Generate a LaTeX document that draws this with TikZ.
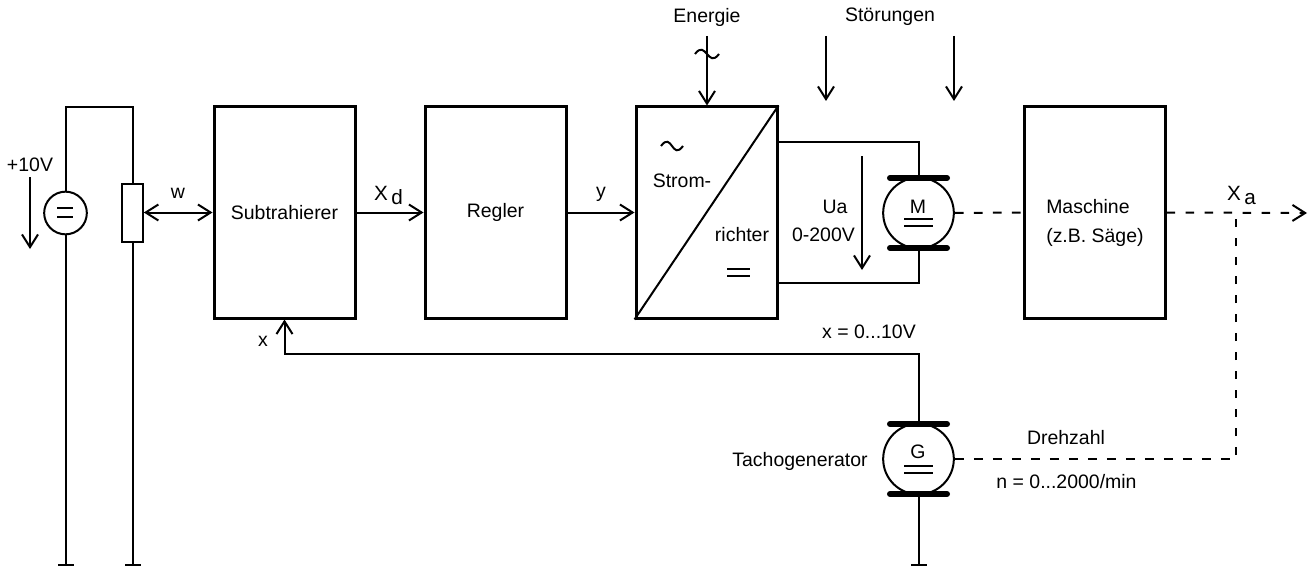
\documentclass[tikz,border=0pt]{standalone}
\usepackage{fontspec}
\setmainfont{Liberation Sans}
\usetikzlibrary{arrows.meta,positioning}

\begin{document}
\begin{tikzpicture}[
		x=0.75pt, y=-0.75pt,
		wire/.style={line width=1.5pt},
		arrow/.style={wire, -{Straight Barb[length=9.5pt,width=12pt,line width=1.5pt]}},
		both/.style={wire, {Straight Barb[length=9.5pt,width=12pt,line width=1.5pt]}-{Straight Barb[length=9.5pt,width=12pt,line width=1.5pt]}},
		shaft/.style={line width=1.5pt, dash pattern=on 6.5pt off 7.75pt},
		ground/.style={wire, -{Bar[width=12pt,line width=1.5pt]}},
		block/.style={draw, line width=2.25pt, fill=white, inner sep=0pt, minimum width=105.75pt, minimum height=158.25pt},
		rotor/.style={draw, circle, line width=1.5pt, fill=white, inner sep=0pt, minimum size=53pt},
		brush/.style={line width=4.5pt, line cap=round},
		label/.style={inner sep=0pt, font=\fontsize{14.6}{17}\selectfont},
		signal/.style={inner sep=0pt, font=\fontsize{15.5}{18}\selectfont},
	]
		\useasboundingbox (0,0) rectangle (1311,567);

		% supply and potentiometer
		\node (src) [draw, circle, wire, fill=white, inner sep=0pt, minimum size=32pt] at (65.5,213) {};
		\node (pot) [draw, wire, fill=white, inner sep=0pt, minimum width=15.5pt, minimum height=43pt] at (132.5,213) {};
		\coordinate (srctop) at (65.5,107);
		\coordinate (pottop) at (132.5,107);
		\coordinate (srcgnd) at (65.5,566);
		\coordinate (potgnd) at (132.5,566);
		\draw[wire] (src) -- (srctop) -- (pottop) -- (pot);
		\draw[ground] (src) -- (srcgnd);
		\draw[ground] (pot) -- (potgnd);
		\draw[wire] (57,208) -- (73,208);
		\draw[wire] (57,217) -- (73,217);
		\node (ubat) [label] at (30,165) {+10V};
		\coordinate (ubata) at (30,177);
		\coordinate (ubatb) at (30,249);
		\draw[arrow] (ubata) -- (ubatb);

		% blocks
		\node (sub) [block] at (284.5,212.5) {};
		\node (reg) [block] at (495.5,212.5) {};
		\node (conv) [block] at (706.5,212.5) {};
		\node (mach) [block] at (1094.5,212.5) {};
		\node [label] at (sub) {Subtrahierer};
		\node [label] at (reg) {Regler};
		\draw[wire] (conv.south west) -- (conv.north east);
		\node (strom) [label] at (682,181) {Strom-};
		\node (richt) [label] at (742,235) {richter};
		\draw[wire] (661,146) .. controls (672,131) and (672,161) .. (683,146);
		\draw[wire] (727,269) -- (750,269);
		\draw[wire] (727,276) -- (750,276);
		\node (machtxt) [label, anchor=west] at (1046,207) {Maschine};
		\node (machtxb) [label, anchor=west] at (1046,237) {(z.B. Säge)};

		\draw[both] (pot.east |- sub.west) -- (sub.west);
		\draw[arrow] (sub) -- (reg);
		\draw[arrow] (reg) -- (conv);
		\node (w) [label] at (178,193) {w};
		\node (xd) [signal] at (388.5,195) {X\,\raisebox{-3pt}{d}};
		\node (y) [label] at (601,194) {y};

		% motor
		\node (mot) [rotor] at (918.5,213) {};
		\draw[brush] (890,178) -- (947,178);
		\draw[brush] (890,248) -- (947,248);
		\node (m) [label] at (918,207) {M};
		\draw[wire] (904,219) -- (933,219);
		\draw[wire] (904,226) -- (933,226);
		\draw[wire] (777,142) -- (918.5,142) -- (918.5,178);
		\draw[wire] (777,283) -- (918.5,283) -- (918.5,248);
		\coordinate (uaa) at (862,156);
		\coordinate (uab) at (862,270);
		\draw[arrow] (uaa) -- (uab);
		\node (ua) [label] at (835,207) {Ua};
		\node (uar) [label] at (823.5,235) {0-200V};

		% inputs from above
		\node (energ) [label] at (707,17) {Energie};
		\node (stoer) [label] at (890,17) {Störungen};
		\coordinate (ena) at (707,36);
		\coordinate (sta) at (826,36);
		\coordinate (stb) at (826,101);
		\coordinate (stc) at (954,36);
		\coordinate (std) at (954,101);
		\draw[arrow] (ena) -- (conv.north -| ena);
		\draw[arrow] (sta) -- (stb);
		\draw[arrow] (stc) -- (std);
		\draw[wire] (695,54) .. controls (706,39) and (708,69) .. (719,54);

		% tacho generator
		\node (gen) [rotor] at (918.5,459) {};
		\draw[brush] (890,424) -- (947,424);
		\draw[brush] (890,494) -- (947,494);
		\node (g) [label] at (918,452) {G};
		\draw[wire] (904,466) -- (933,466);
		\draw[wire] (904,473) -- (933,473);
		\coordinate (gngnd) at (918.5,566);
		\coordinate (fbb) at (284.5,354);
		\draw[ground] (918.5,494) -- (gngnd);
		\draw[arrow] (918.5,424) -- (918.5,354) -- (fbb) -- (sub.south);
		\node (tacho) [label] at (800,461) {Tachogenerator};
		\node (x) [label] at (263,341) {x};
		\node (xv) [label] at (869,332) {x = 0...10V};
		\node (drz) [label] at (1066,438) {Drehzahl};
		\node (nmin) [label] at (1066.5,482) {n = 0...2000/min};

		% shaft
		\coordinate (xatap) at (1236,213);
		\coordinate (xaend) at (1307,213);
		\coordinate (tacho2) at (1236,459);
		\draw[shaft] (mot.east) -- (mach.west);
		\draw[shaft, -{Straight Barb[length=9.5pt,width=12pt,line width=1.5pt]}] (mach.east) -- (xaend);
		\draw[shaft] (gen.east) -- (tacho2) -- (xatap);
		\node (xa) [signal] at (1241.5,195) {X\,\raisebox{-3pt}{a}};
	\end{tikzpicture}
\end{document}
